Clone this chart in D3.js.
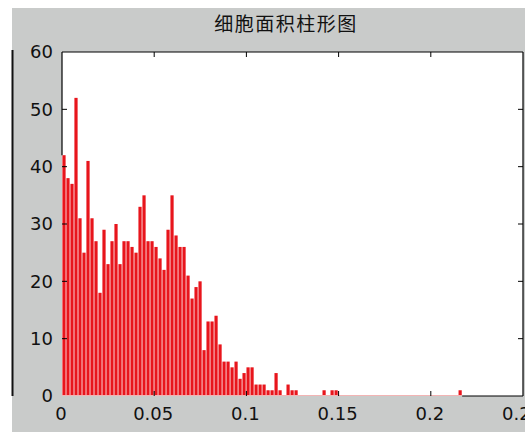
<!DOCTYPE html>
<html>
<head>
<meta charset="utf-8">
<script src="https://cdn.jsdelivr.net/npm/d3@7"></script>
<style>
  body { margin: 0; background: #fff; }
  svg text { font-family: "DejaVu Sans", sans-serif; }
</style>
</head>
<body>
<div id="chart"></div>
<script>
// histogram counts, one per bin (100 bins starting at 0)
var counts = [
  42, 38, 37, 52, 31, 25, 41, 31, 27, 18,
  29, 23, 27, 30, 23, 27, 27, 26, 25, 33,
  35, 27, 27, 26, 24, 22, 29, 35, 28, 26,
  26, 21, 17, 19, 20, 8, 13, 13, 14, 9,
  6, 6, 5, 6, 3, 4, 5, 5, 2, 2,
  2, 1, 1, 4, 1, 0, 2, 1, 1, 0,
  0, 0, 0, 0, 0, 1, 0, 1, 1, 0,
  0, 0, 0, 0, 0, 0, 0, 0, 0, 0,
  0, 0, 0, 0, 0, 0, 0, 0, 0, 0,
  0, 0, 0, 0, 0, 0, 0, 0, 0, 1
];
var binWidth = 0.00217;
var xTicks = [0, 0.05, 0.1, 0.15, 0.2, 0.25];
var xTickLabels = ["0", "0.05", "0.1", "0.15", "0.2", "0.25"];
var yTicks = [0, 10, 20, 30, 40, 50, 60];
var title = "细胞面积柱形图";

var width = 525, height = 432;
var margin = {top: 52, right: 2, bottom: 36, left: 62};
var x0 = margin.left, x1 = width - margin.right;
var y0 = height - margin.bottom, y1 = margin.top;

var svg = d3.select("#chart").append("svg")
  .attr("width", width).attr("height", height);

// figure background
svg.append("rect").attr("x", 12).attr("y", 8)
  .attr("width", width - 12).attr("height", height - 8)
  .attr("fill", "#c9cbca");
svg.append("line").attr("x1", 12.5).attr("x2", 12.5)
  .attr("y1", 50).attr("y2", 396)
  .attr("stroke", "#111").attr("stroke-width", 2);

var x = d3.scaleLinear().domain([0, 0.25]).range([x0, x1]);
var y = d3.scaleLinear().domain([0, 60]).range([y0, y1]);

svg.append("rect").attr("x", x0).attr("y", y1)
  .attr("width", x1 - x0).attr("height", y0 - y1)
  .attr("fill", "#fff");

// bars
var bw = x(binWidth) - x(0);
svg.append("g").selectAll("rect")
  .data(counts)
  .join("rect")
    .attr("x", (d, i) => x(i * binWidth) + bw * 0.1)
    .attr("y", d => y(d))
    .attr("width", bw * 0.8)
    .attr("height", d => y(0) - y(d))
    .attr("fill", "#e8151c");

// flat baseline of the histogram
svg.append("line")
  .attr("x1", x(0)).attr("x2", x(counts.length * binWidth))
  .attr("y1", y(0) - 0.5).attr("y2", y(0) - 0.5)
  .attr("stroke", "#f2b4b4").attr("stroke-width", 1);

// box: black where not covered by histogram
var box = svg.append("g").attr("stroke", "#000").attr("stroke-width", 1.2).attr("fill", "none");
box.append("line").attr("x1", x0).attr("x2", x1).attr("y1", y1).attr("y2", y1);
box.append("line").attr("x1", x1).attr("x2", x1).attr("y1", y1).attr("y2", y0);
box.append("line").attr("x1", x0).attr("x2", x0).attr("y1", y1).attr("y2", y(counts[0]));
box.append("line").attr("x1", x(counts.length * binWidth)).attr("x2", x1).attr("y1", y0).attr("y2", y0);

// inward ticks
var tickLen = 5;
var tk = svg.append("g").attr("stroke", "#000").attr("stroke-width", 1);
xTicks.slice(1, -1).forEach(function(t) {
  tk.append("line").attr("x1", x(t)).attr("x2", x(t)).attr("y1", y1).attr("y2", y1 + tickLen);
  tk.append("line").attr("x1", x(t)).attr("x2", x(t)).attr("y1", y0).attr("y2", y0 - tickLen);
});
yTicks.slice(1, -1).forEach(function(t) {
  tk.append("line").attr("x1", x0).attr("x2", x0 + tickLen).attr("y1", y(t)).attr("y2", y(t));
  tk.append("line").attr("x1", x1).attr("x2", x1 - tickLen).attr("y1", y(t)).attr("y2", y(t));
});

// tick labels
svg.append("g").selectAll("text")
  .data(yTicks)
  .join("text")
    .attr("x", 53)
    .attr("y", d => y(d))
    .attr("dy", "0.36em")
    .attr("text-anchor", "end")
    .attr("font-size", 18)
    .attr("fill", "#111")
    .text(d => d);

svg.append("g").selectAll("text")
  .data(xTicks)
  .join("text")
    .attr("x", d => x(d) - 1)
    .attr("y", 420)
    .attr("text-anchor", "middle")
    .attr("font-size", 18)
    .attr("fill", "#111")
    .text((d, i) => xTickLabels[i]);

// title
svg.append("text")
  .attr("x", 286).attr("y", 31)
  .attr("text-anchor", "middle")
  .attr("font-size", 19)
  .attr("letter-spacing", 1.5)
  .style("font-family", "'Noto Sans CJK SC', sans-serif")
  .attr("fill", "#111")
  .text(title);
</script>
</body>
</html>
